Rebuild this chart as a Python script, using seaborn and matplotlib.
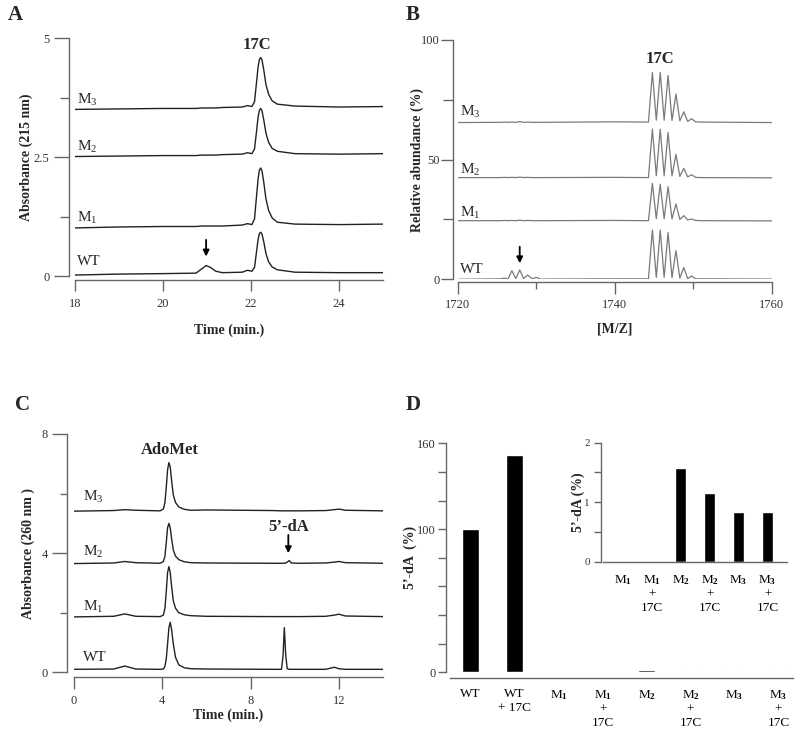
import pandas as pd
import seaborn as sns
import matplotlib.pyplot as plt

# ---- Panel A: HPLC at 215 nm ----
a_time = [18.0, 19.0, 20.0, 20.75, 20.88, 20.98, 21.08, 21.2, 21.35, 21.8, 21.92,
          22.02, 22.08, 22.12, 22.16, 22.19, 22.22, 22.25, 22.29, 22.34, 22.4, 22.48,
          22.6, 23.0, 24.0, 25.0]
a_wt = [0.02, 0.04, 0.05, 0.06, 0.15, 0.22, 0.18, 0.10, 0.07, 0.08, 0.12,
        0.10, 0.18, 0.47, 0.76, 0.89, 0.92, 0.88, 0.72, 0.47, 0.30, 0.19,
        0.13, 0.08, 0.07, 0.07]
a_m1 = [1.01, 1.03, 1.04, 1.04, 1.05, 1.05, 1.05, 1.05, 1.05, 1.07, 1.10,
        1.08, 1.20, 1.62, 2.03, 2.22, 2.27, 2.21, 1.97, 1.62, 1.38, 1.22,
        1.13, 1.09, 1.08, 1.09]
a_m2 = [2.51, 2.52, 2.53, 2.53, 2.54, 2.54, 2.54, 2.54, 2.55, 2.56, 2.59,
        2.57, 2.67, 2.99, 3.33, 3.48, 3.52, 3.47, 3.28, 3.00, 2.81, 2.68,
        2.62, 2.57, 2.56, 2.57]
a_m3 = [3.50, 3.51, 3.52, 3.52, 3.53, 3.53, 3.53, 3.53, 3.54, 3.55, 3.58,
        3.56, 3.66, 4.02, 4.38, 4.55, 4.59, 4.54, 4.33, 4.02, 3.82, 3.68,
        3.61, 3.57, 3.55, 3.56]

# ---- Panel B: mass spectra ----
b_mz = [1720, 1725.5, 1726.0, 1726.4, 1726.9, 1727.4, 1727.9, 1728.4, 1728.9, 1729.5,
        1730.0, 1730.5, 1740, 1744.3, 1744.8, 1745.3, 1745.8, 1746.3, 1746.8, 1747.3,
        1747.8, 1748.3, 1748.8, 1749.3, 1749.8, 1750.3, 1751, 1760]
b_wt = [0.0, 0.2, 0.5, 0.1, 3.6, 0.3, 3.9, 0.3, 1.8, 0.2, 0.8, 0.1, 0.2, 0.2,
        20.6, 0.8, 20.6, 0.8, 19.6, 0.7, 12.0, 0.5, 4.9, 0.3, 1.4, 0.2, 0.2, 0.1]
b_m1 = [24.5, 24.5, 24.6, 24.5, 24.6, 24.5, 24.7, 24.5, 24.6, 24.5, 24.5, 24.5, 24.6, 24.5,
        40.1, 25.3, 39.7, 25.3, 38.7, 25.2, 31.5, 25.0, 26.6, 24.8, 25.2, 24.6, 24.5, 24.4]
b_m2 = [42.5, 42.5, 42.6, 42.5, 42.6, 42.5, 42.7, 42.5, 42.6, 42.5, 42.5, 42.5, 42.6, 42.5,
        62.8, 43.3, 62.7, 43.3, 61.3, 43.2, 52.2, 43.0, 46.4, 42.8, 43.7, 42.6, 42.5, 42.4]
b_m3 = [65.5, 65.6, 65.7, 65.6, 65.7, 65.6, 65.9, 65.6, 65.7, 65.6, 65.6, 65.6, 65.8, 65.7,
        86.4, 66.5, 86.4, 66.5, 85.2, 66.4, 77.4, 66.2, 70.0, 66.0, 67.1, 65.8, 65.7, 65.5]

# ---- Panel C: HPLC at 260 nm ----
c_time = [0.0, 1.8, 2.3, 2.8,
          3.9, 4.05, 4.12, 4.18, 4.24, 4.3, 4.36, 4.42, 4.5, 4.6, 4.75, 5.0, 5.3,
          6.0, 9.0,
          9.4, 9.47, 9.53, 9.59, 9.66, 9.75, 9.85,
          10.2, 11.4, 11.8, 12.0, 12.3, 14.0]
c_wt = [0.10, 0.11, 0.21, 0.11,
        0.10, 0.11, 0.20, 0.45, 0.95, 1.50, 1.68, 1.45, 0.95, 0.50, 0.25, 0.15, 0.12,
        0.11, 0.10,
        0.10, 0.55, 1.50, 0.60, 0.12, 0.10, 0.10,
        0.10, 0.10, 0.17, 0.12, 0.10, 0.10]
c_m1 = [1.86, 1.88, 1.96, 1.88,
        1.87, 1.92, 2.15, 2.70, 3.35, 3.55, 3.35, 2.90, 2.40, 2.15, 2.00, 1.93, 1.90,
        1.88, 1.87,
        1.87, 1.87, 1.87, 1.87, 1.87, 1.87, 1.87,
        1.87, 1.88, 1.92, 1.95, 1.89, 1.87]
c_m2 = [3.65, 3.67, 3.72, 3.68,
        3.66, 3.72, 3.90, 4.35, 4.85, 5.00, 4.85, 4.50, 4.10, 3.90, 3.78, 3.71, 3.68,
        3.67, 3.66,
        3.66, 3.66, 3.66, 3.67, 3.70, 3.75, 3.67,
        3.66, 3.67, 3.70, 3.72, 3.68, 3.66]
c_m3 = [5.41, 5.43, 5.46, 5.44,
        5.42, 5.48, 5.70, 6.20, 6.80, 7.04, 6.90, 6.45, 5.95, 5.70, 5.55, 5.47, 5.44,
        5.45, 5.43,
        5.42, 5.42, 5.42, 5.42, 5.42, 5.42, 5.42,
        5.42, 5.43, 5.46, 5.48, 5.44, 5.42]

samples = ['WT', 'M1', 'M2', 'M3']
trace_labels = ['WT', 'M$_1$', 'M$_2$', 'M$_3$']

# ---- Panel D: 5'-dA formed ----
d_groups = ['WT', 'WT + 17C', 'M1', 'M1 + 17C', 'M2', 'M2 + 17C', 'M3', 'M3 + 17C']
d_values = [100, 152, 0, 0, 1.58, 1.15, 0.84, 0.83]
d_ticklabels = ['WT', 'WT\n+ 17C', r'M$_\mathbf{1}$', 'M$_\\mathbf{1}$\n+\n17C',
                r'M$_\mathbf{2}$', 'M$_\\mathbf{2}$\n+\n17C',
                r'M$_\mathbf{3}$', 'M$_\\mathbf{3}$\n+\n17C']
inset_groups = d_groups[2:]
inset_values = d_values[2:]
inset_ticklabels = d_ticklabels[2:]

sns.set_style('ticks')
plt.rcParams['font.family'] = ['Liberation Serif', 'DejaVu Serif']
plt.rcParams['mathtext.fontset'] = 'custom'
plt.rcParams['mathtext.rm'] = 'Liberation Serif'
plt.rcParams['mathtext.it'] = 'Liberation Serif:italic'
plt.rcParams['mathtext.bf'] = 'Liberation Serif:bold'

fig = plt.figure(figsize=(8, 7.29), dpi=100)
W, H = 800, 729


def axes_px(x0, x1, ytop, ybot):
    return fig.add_axes([x0 / W, 1 - ybot / H, (x1 - x0) / W, (ybot - ytop) / H])


def style(ax, off_left, off_bottom, ybounds, xbounds=None):
    sns.despine(ax=ax, offset={'left': off_left, 'bottom': off_bottom})
    ax.spines['left'].set_bounds(*ybounds)
    if xbounds is not None:
        ax.spines['bottom'].set_bounds(*xbounds)
    for s in ('left', 'bottom'):
        ax.spines[s].set_color('#666666')
        ax.spines[s].set_linewidth(1.0)
    ax.tick_params(colors='#666666', labelcolor='#333333', labelsize=9, width=1.0)
    ax.set_facecolor('none')


def traces(ax, x, ys, color, lw):
    df = pd.DataFrame({'x': x * len(ys), 'y': sum(ys, []),
                       'sample': [s for s in samples for _ in x]})
    sns.lineplot(data=df, x='x', y='y', units='sample', estimator=None, sort=False,
                 color=color, lw=lw, ax=ax)
    ax.set_xlabel('')
    ax.set_ylabel('')


def arrow(ax, x, y0, y1):
    ax.annotate('', xy=(x, y1), xytext=(x, y0),
                arrowprops=dict(arrowstyle='-|>', color='black', lw=1.3,
                                mutation_scale=9, shrinkA=0, shrinkB=0))


# ===== A =====
ax = axes_px(75, 383, 38, 276)
traces(ax, a_time, [a_wt, a_m1, a_m2, a_m3], '#222222', 1.0)
ax.set_xlim(18, 25)
ax.set_ylim(0, 5)
ax.set_xticks([18, 20, 22, 24])
ax.set_yticks([0, 2.5, 5])
ax.set_yticklabels(['0', '2.5', '5'])
ax.set_yticks([1.25, 3.75], minor=True)
style(ax, 4.3, 2.9, (0, 5), (18, 25))
ax.tick_params(axis='y', which='major', length=11, pad=3)
ax.tick_params(axis='y', which='minor', length=6.5, width=1.0, colors='#666666')
ax.tick_params(axis='x', length=8, pad=5)
for lab, y in zip(trace_labels, [0.3, 1.21, 2.72, 3.7]):
    ax.text(18.05, y, lab, fontsize=11, va='center', ha='left')
ax.text(22.14, 4.85, '17C', fontsize=12, fontweight='bold', ha='center', va='center')
arrow(ax, 20.98, 0.76, 0.41)
ax.set_ylabel('Absorbance (215 nm)', fontsize=10, fontweight='bold')
ax.yaxis.set_label_coords(-0.136, 0.5)
ax.set_xlabel('Time (min.)', fontsize=10, fontweight='bold')
ax.xaxis.set_label_coords(0.5, -0.2)
fig.text(15 / W, 1 - 15 / H, 'A', fontsize=15, fontweight='bold', ha='center', va='center')

# ===== B =====
ax = axes_px(457.7, 771.7, 40, 279.3)
traces(ax, b_mz, [b_wt, b_m1, b_m2, b_m3], '#7a7a7a', 0.9)
ax.set_xlim(1720, 1760)
ax.set_ylim(0, 100)
ax.set_xticks([1720, 1740, 1760])
ax.set_xticks([1730, 1750], minor=True)
ax.set_yticks([0, 50, 100])
ax.set_yticks([25, 75], minor=True)
style(ax, 3.2, 1.7, (0, 100), (1720, 1760))
ax.tick_params(axis='y', which='major', length=9, pad=1)
ax.tick_params(axis='y', which='minor', length=7, width=1.0, colors='#666666')
ax.tick_params(axis='x', which='major', length=8.5, pad=4)
ax.tick_params(axis='x', which='minor', length=5, width=1.0, colors='#666666')
for lab, y in zip(trace_labels, [4.2, 27.6, 45.7, 70.0]):
    ax.text(1720.3, y, lab, fontsize=11, va='center', ha='left')
ax.text(1745.8, 91.9, '17C', fontsize=12, fontweight='bold', ha='center', va='center')
arrow(ax, 1727.9, 13.6, 6.7)
ax.set_ylabel('Relative abundance (%)', fontsize=10, fontweight='bold')
ax.yaxis.set_label_coords(-0.106, 0.5)
ax.set_xlabel('[M/Z]', fontsize=10, fontweight='bold')
ax.xaxis.set_label_coords(0.5, -0.18)
fig.text(413 / W, 1 - 15 / H, 'B', fontsize=15, fontweight='bold', ha='center', va='center')

# ===== C =====
ax = axes_px(74, 383, 434, 672.3)
traces(ax, c_time, [c_wt, c_m1, c_m2, c_m3], '#222222', 1.0)
ax.set_xlim(0, 14)
ax.set_ylim(0, 8)
ax.set_xticks([0, 4, 8, 12])
ax.set_yticks([0, 4, 8])
ax.set_yticks([2, 6], minor=True)
style(ax, 5, 3.2, (0, 8), (0, 14))
ax.tick_params(axis='y', which='major', length=11, pad=3)
ax.tick_params(axis='y', which='minor', length=5, width=1.0, colors='#666666')
ax.tick_params(axis='x', length=8.5, pad=5)
for lab, y in zip(trace_labels, [0.5, 2.2, 4.05, 5.9]):
    ax.text(0.42, y, lab, fontsize=11, va='center', ha='left')
ax.text(4.35, 7.46, 'AdoMet', fontsize=12, fontweight='bold', ha='center', va='center')
ax.text(9.71, 4.89, '5’-dA', fontsize=12, fontweight='bold', ha='center', va='center')
arrow(ax, 9.71, 4.61, 4.0)
ax.set_ylabel('Absorbance (260 nm )', fontsize=10, fontweight='bold')
ax.yaxis.set_label_coords(-0.126, 0.5)
ax.set_xlabel('Time (min.)', fontsize=10, fontweight='bold')
ax.xaxis.set_label_coords(0.5, -0.15)
fig.text(22 / W, 1 - 405 / H, 'C', fontsize=15, fontweight='bold', ha='center', va='center')

# ===== D (main bars) =====
ax = axes_px(450, 793, 443.3, 672.3)
sns.barplot(x=d_groups, y=d_values, color='black', saturation=1, width=0.4,
            errorbar=None, ax=ax)
ax.set_xlim(-0.47, 7.33)
ax.set_ylim(0, 160)
ax.set_yticks([0, 100, 160])
ax.set_yticks([20, 40, 60, 80, 120, 140], minor=True)
ax.set_xticks(range(len(d_groups)))
ax.set_xticklabels(d_ticklabels, fontweight='bold', linespacing=1.05)
style(ax, 2.9, 4.1, (0, 160))
ax.tick_params(axis='y', which='both', length=6, pad=1.5)
ax.tick_params(axis='y', which='minor', width=1.0, colors='#666666')
ax.tick_params(axis='x', length=0, pad=7, labelcolor='black', labelsize=9.5)
ax.set_xlabel('')
ax.set_ylabel('5’-dA  (%)', fontsize=10, fontweight='bold')
ax.yaxis.set_label_coords(-0.097, 0.5)
fig.text(413 / W, 1 - 405 / H, 'D', fontsize=15, fontweight='bold', ha='center', va='center')

# ===== D (inset) =====
ax = axes_px(602.7, 786.7, 442.7, 561.7)
sns.barplot(x=inset_groups, y=inset_values, color='black', saturation=1, width=0.38,
            errorbar=None, ax=ax)
ax.set_xlim(-0.69, 5.66)
ax.set_ylim(0, 2)
ax.set_yticks([0, 1, 2])
ax.set_yticks([0.5, 1.5], minor=True)
ax.set_xticks(range(len(inset_groups)))
ax.set_xticklabels(inset_ticklabels, fontweight='bold', linespacing=1.05)
style(ax, 1.2, 0, (0, 2))
ax.tick_params(axis='y', which='both', length=5, pad=3, labelsize=8)
ax.tick_params(axis='y', which='minor', width=1.0, colors='#666666')
ax.tick_params(axis='x', length=0, pad=8, labelcolor='black', labelsize=9.5)
ax.set_xlabel('')
ax.set_ylabel('5’-dA (%)', fontsize=10, fontweight='bold')
ax.yaxis.set_label_coords(-0.096, 0.5)

fig.savefig('out.png', dpi=100)
